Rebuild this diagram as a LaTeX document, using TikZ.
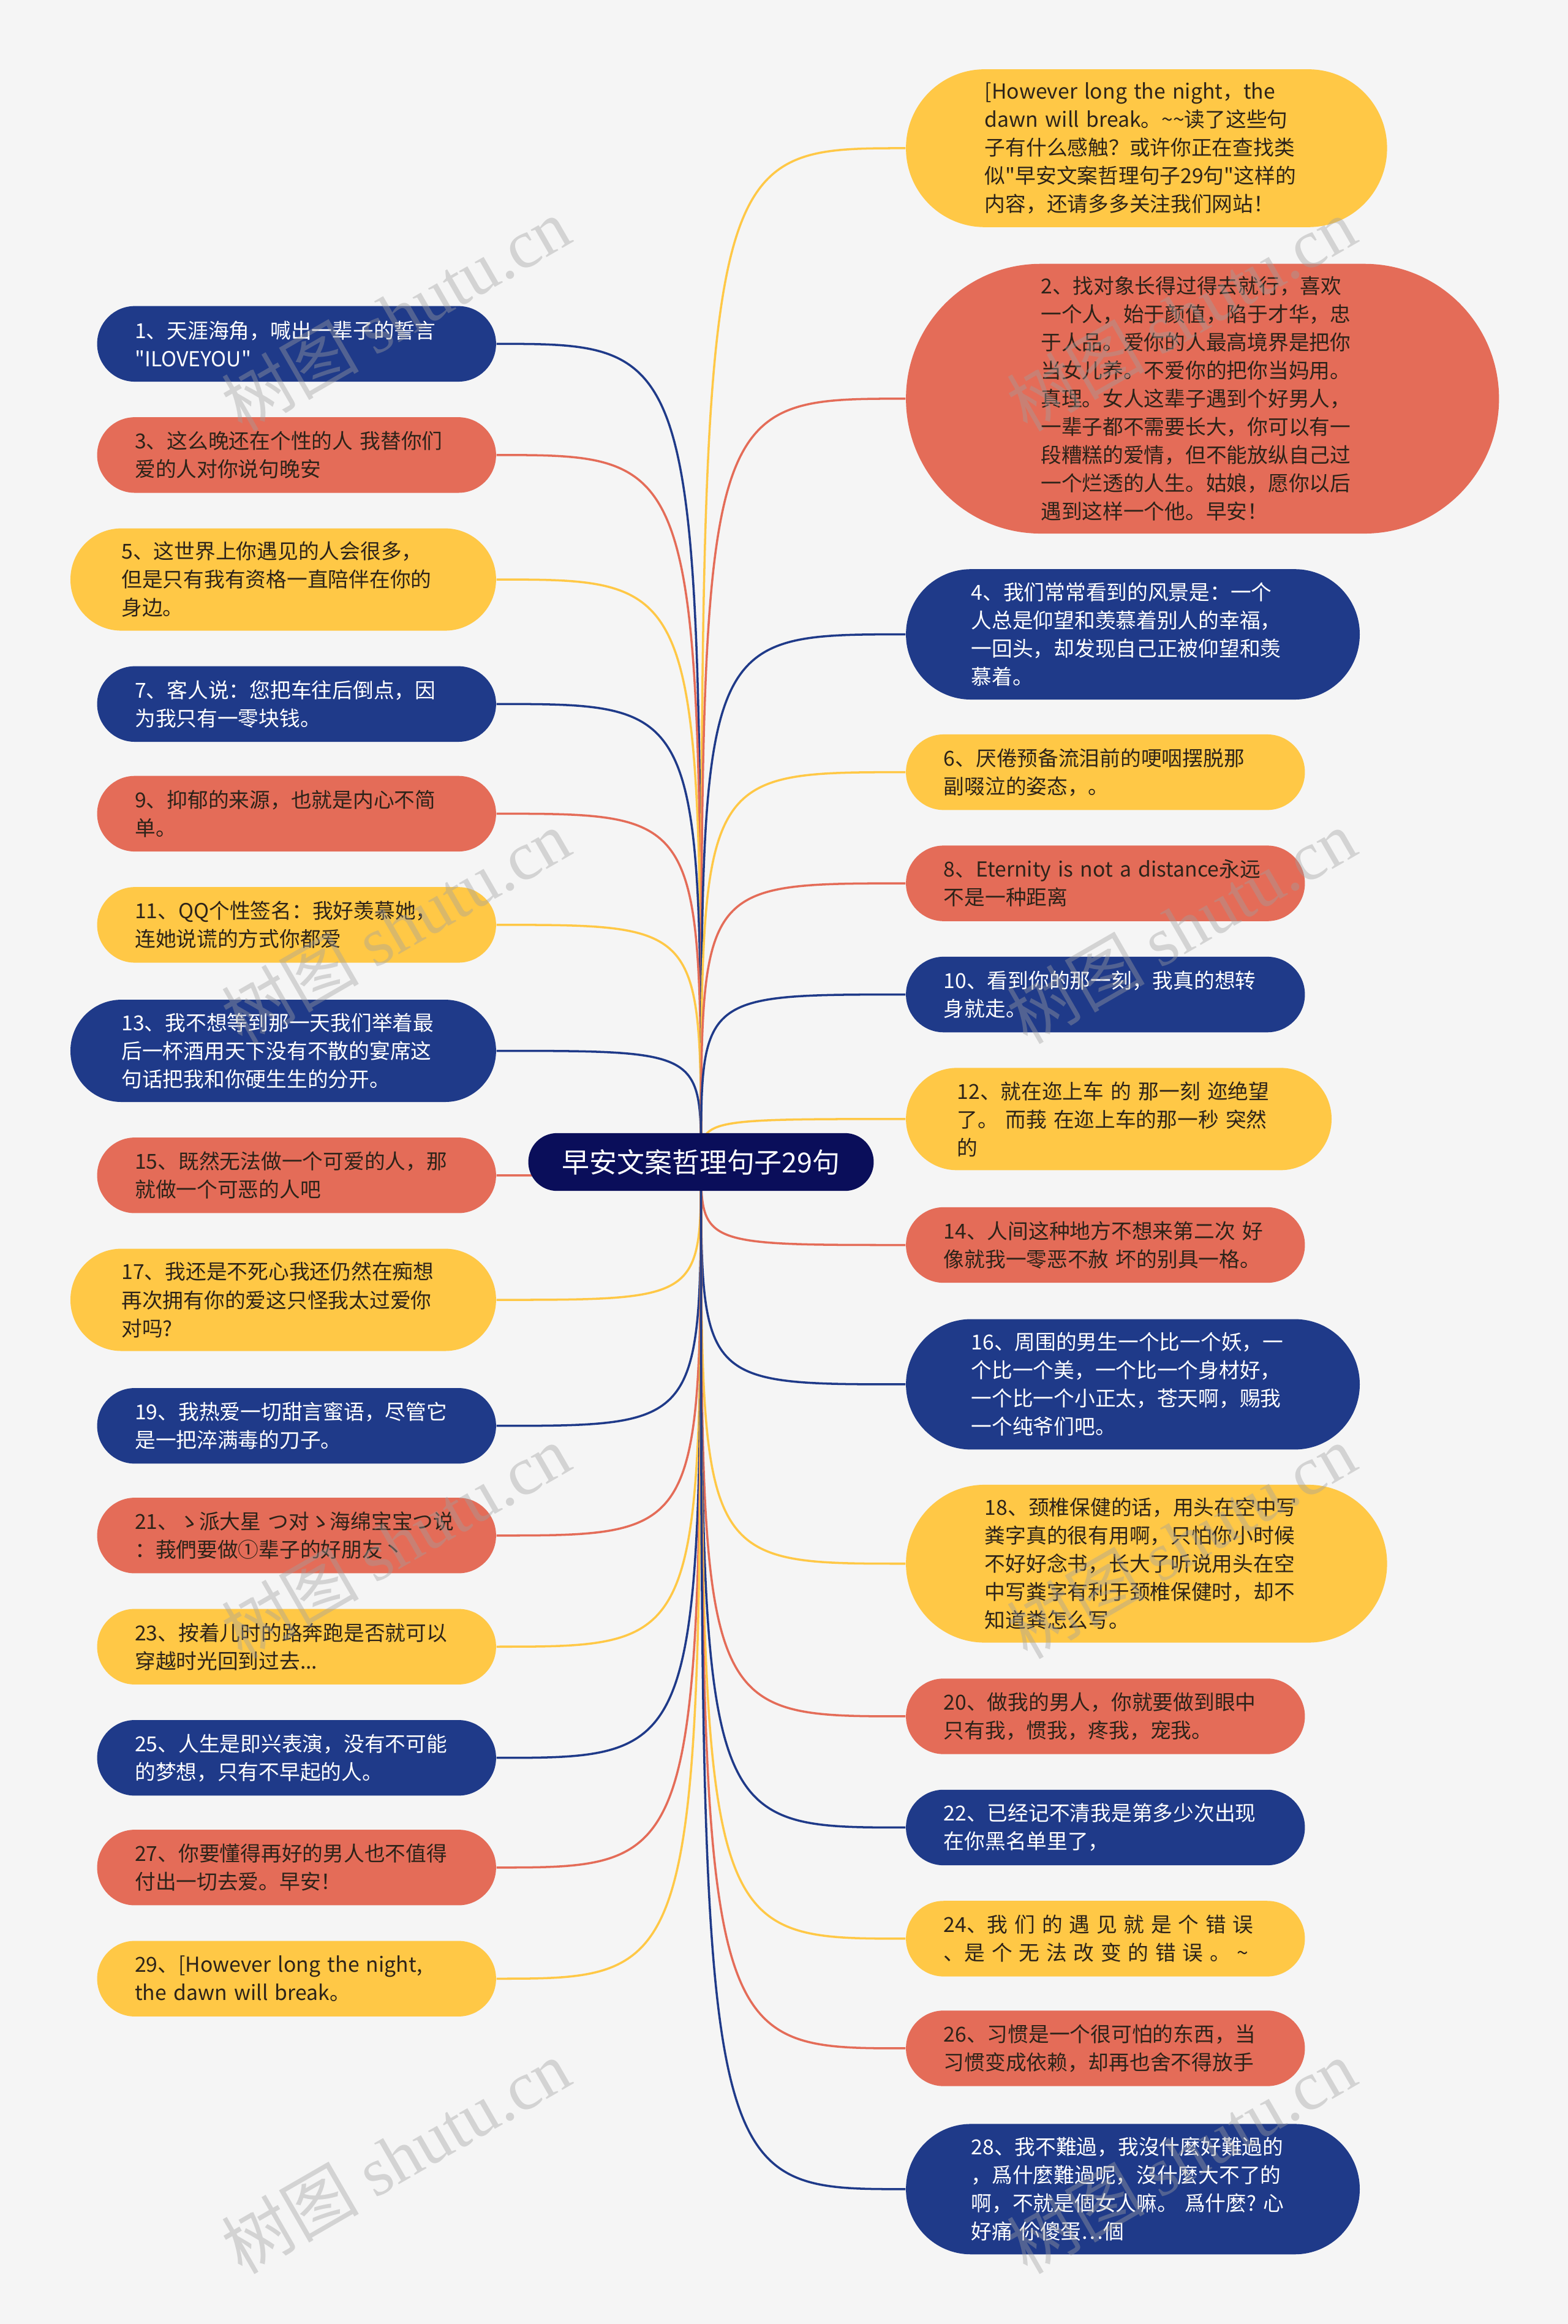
\documentclass[tikz,border=0pt]{standalone}
\usepackage{fontspec}
\setmainfont{Noto Sans CJK SC}[Ligatures=TeXOff]
\newfontfamily\markfont{Liberation Serif}
\usepackage{xcolor}
\usepackage{tikz}
\definecolor{mapbg}{RGB}{245,245,245}
\definecolor{mapnavy}{RGB}{10,14,90}
\definecolor{mapblue}{RGB}{31,58,137}
\definecolor{maporange}{RGB}{228,108,88}
\definecolor{mapyellow}{RGB}{255,200,70}
\definecolor{mapink}{RGB}{45,35,25}
\definecolor{markgray}{RGB}{160,160,160}
\pgfdeclarelayer{back}
\pgfdeclarelayer{lines}
\pgfdeclarelayer{front}
\pgfsetlayers{back,lines,main,front}
\newcommand\wsp{\nobreak\hspace{.32em}}

\begin{document}
\begin{tikzpicture}[
  x=0.024197cm, y=-0.024197cm,
  leaf/.style   = {rectangle, inner ysep=0.2cm, text width=5.28cm, align=left,
                   font=\fontsize{9.6pt}{13.1pt}\selectfont},
  lleaf/.style  = {leaf, anchor=east},
  rleaf/.style  = {leaf, anchor=west},
  lines2/.style = {minimum height=1.234cm, inner xsep=0.617cm, rounded corners=0.615cm},
  lines3/.style = {minimum height=1.670cm, inner xsep=0.835cm, rounded corners=0.833cm},
  lines4/.style = {minimum height=2.129cm, inner xsep=1.065cm, rounded corners=1.062cm},
  lines5/.style = {minimum height=2.577cm, inner xsep=1.288cm, rounded corners=1.286cm},
  lines9/.style = {minimum height=4.404cm, inner xsep=2.202cm, rounded corners=2.200cm},
  bnode/.style  = {fill=mapblue, text=white},
  onode/.style  = {fill=maporange, text=mapink},
  ynode/.style  = {fill=mapyellow, text=mapink},
  link/.style   = {line width=1pt},
  wmark/.style  = {rotate=30, text=markgray, opacity=0.4,
                   font=\fontsize{32pt}{32pt}\selectfont},
]
  \useasboundingbox (0,0) rectangle (1058,1568);
  \begin{pgfonlayer}{back}
    \fill[mapbg] (0,0) rectangle (1058,1568);
  \end{pgfonlayer}

  \node[rectangle, rounded corners=0.47cm, fill=mapnavy, text=white,
        minimum width=5.64cm, minimum height=0.944cm,
        font=\fontsize{12.8pt}{15pt}\selectfont]
    (root) at (473,784) {早安文案哲理句子29句};

  % left branch
  \node[lleaf, lines2, bnode] (l1)  at (335,232)  {1、天涯海角，喊出一辈子的誓言\\"ILOVEYOU"};
  \node[lleaf, lines2, onode] (l3)  at (335,307)  {3、这么晚还在个性的人~我替你们\\爱的人对你说句晚安};
  \node[lleaf, lines3, ynode] (l5)  at (335,391)  {5、这世界上你遇见的人会很多，\\但是只有我有资格一直陪伴在你的\\身边。};
  \node[lleaf, lines2, bnode] (l7)  at (335,475)  {7、客人说：您把车往后倒点，因\\为我只有一零块钱。};
  \node[lleaf, lines2, onode] (l9)  at (335,549)  {9、抑郁的来源，也就是内心不简\\单。};
  \node[lleaf, lines2, ynode] (l11) at (335,624)  {11、QQ个性签名：我好羡慕她，\\连她说谎的方式你都爱};
  \node[lleaf, lines3, bnode] (l13) at (335,709)  {13、我不想等到那一天我们举着最\\后一杯酒用天下没有不散的宴席这\\句话把我和你硬生生的分开。};
  \node[lleaf, lines2, onode] (l15) at (335,793)  {15、既然无法做一个可爱的人，那\\就做一个可恶的人吧};
  \node[lleaf, lines3, ynode] (l17) at (335,877)  {17、我还是不死心我还仍然在痴想\\再次拥有你的爱这只怪我太过爱你\\对吗?};
  \node[lleaf, lines2, bnode] (l19) at (335,962)  {19、我热爱一切甜言蜜语，尽管它\\是一把淬满毒的刀子。};
  \node[lleaf, lines2, onode] (l21) at (335,1036) {21、ゝ派大星~つ对ゝ海绵宝宝つ说\\：莪們要做①辈子的好朋友丶};
  \node[lleaf, lines2, ynode] (l23) at (335,1111) {23、按着儿时的路奔跑是否就可以\\穿越时光回到过去...};
  \node[lleaf, lines2, bnode] (l25) at (335,1186) {25、人生是即兴表演，没有不可能\\的梦想，只有不早起的人。};
  \node[lleaf, lines2, onode] (l27) at (335,1260) {27、你要懂得再好的男人也不值得\\付出一切去爱。早安！};
  \node[lleaf, lines2, ynode] (l29) at (335,1335) {29、[However~long~the~night,\\the~dawn~will~break。};

  % right branch
  \node[rleaf, lines5, ynode] (r0)  at (611,100)  {[However~long~the~night，the\\dawn~will~break。\textasciitilde\textasciitilde 读了这些句\\子有什么感触？或许你正在查找类\\似"早安文案哲理句子29句"这样的\\内容，还请多多关注我们网站！};
  \node[rleaf, lines9, onode] (r2)  at (611,269)  {2、找对象长得过得去就行，喜欢\\一个人，始于颜值，陷于才华，忠\\于人品。爱你的人最高境界是把你\\当女儿养。不爱你的把你当妈用。\\真理。女人这辈子遇到个好男人，\\一辈子都不需要长大，你可以有一\\段糟糕的爱情，但不能放纵自己过\\一个烂透的人生。姑娘，愿你以后\\遇到这样一个他。早安！};
  \node[rleaf, lines4, bnode] (r4)  at (611,428)  {4、我们常常看到的风景是：一个\\人总是仰望和羡慕着别人的幸福，\\一回头，却发现自己正被仰望和羡\\慕着。};
  \node[rleaf, lines2, ynode] (r6)  at (611,521)  {6、厌倦预备流泪前的哽咽摆脱那\\副啜泣的姿态，。};
  \node[rleaf, lines2, onode] (r8)  at (611,596)  {8、Eternity~is~not~a~distance永远\\不是一种距离};
  \node[rleaf, lines2, bnode] (r10) at (611,671)  {10、看到你的那一刻，我真的想转\\身就走。};
  \node[rleaf, lines3, ynode] (r12) at (611,755)  {12、就在迩上车~的~那一刻~迩绝望\\了。~而莪~在迩上车的那一秒~突然\\的};
  \node[rleaf, lines2, onode] (r14) at (611,840)  {14、人间这种地方不想来第二次~好\\像就我一零恶不赦~坏的别具一格。};
  \node[rleaf, lines4, bnode] (r16) at (611,934)  {16、周围的男生一个比一个妖，一\\个比一个美，一个比一个身材好，\\一个比一个小正太，苍天啊，赐我\\一个纯爷们吧。};
  \node[rleaf, lines5, ynode] (r18) at (611,1055) {18、颈椎保健的话，用头在空中写\\粪字真的很有用啊，只怕你小时候\\不好好念书，长大了听说用头在空\\中写粪字有利于颈椎保健时，却不\\知道粪怎么写。};
  \node[rleaf, lines2, onode] (r20) at (611,1158) {20、做我的男人，你就要做到眼中\\只有我，惯我，疼我，宠我。};
  \node[rleaf, lines2, bnode] (r22) at (611,1233) {22、已经记不清我是第多少次出现\\在你黑名单里了，};
  \node[rleaf, lines2, ynode] (r24) at (611,1308) {24、我\wsp 们\wsp 的\wsp 遇\wsp 见\wsp 就\wsp 是\wsp 个\wsp 错\wsp 误\\、是\wsp 个\wsp 无\wsp 法\wsp 改\wsp 变\wsp 的\wsp 错\wsp 误\wsp 。\wsp\textasciitilde};
  \node[rleaf, lines2, onode] (r26) at (611,1382) {26、习惯是一个很可怕的东西，当\\习惯变成依赖，却再也舍不得放手};
  \node[rleaf, lines4, bnode] (r28) at (611,1477) {28、我不難過，我沒什麼好難過的\\，爲什麼難過呢，沒什麼大不了的\\啊，不就是個女人嘛。~爲什麼?~心\\好痛~伱傻蛋…個};

  % connectors
  \begin{pgfonlayer}{lines}
    \draw[link, mapblue]   (root.center) .. controls (root.center |- l1.east)  .. (l1.east);
    \draw[link, maporange] (root.center) .. controls (root.center |- l3.east)  .. (l3.east);
    \draw[link, mapyellow] (root.center) .. controls (root.center |- l5.east)  .. (l5.east);
    \draw[link, mapblue]   (root.center) .. controls (root.center |- l7.east)  .. (l7.east);
    \draw[link, maporange] (root.center) .. controls (root.center |- l9.east)  .. (l9.east);
    \draw[link, mapyellow] (root.center) .. controls (root.center |- l11.east) .. (l11.east);
    \draw[link, mapblue]   (root.center) .. controls (root.center |- l13.east) .. (l13.east);
    \draw[link, maporange] (root.center) .. controls (root.center |- l15.east) .. (l15.east);
    \draw[link, mapyellow] (root.center) .. controls (root.center |- l17.east) .. (l17.east);
    \draw[link, mapblue]   (root.center) .. controls (root.center |- l19.east) .. (l19.east);
    \draw[link, maporange] (root.center) .. controls (root.center |- l21.east) .. (l21.east);
    \draw[link, mapyellow] (root.center) .. controls (root.center |- l23.east) .. (l23.east);
    \draw[link, mapblue]   (root.center) .. controls (root.center |- l25.east) .. (l25.east);
    \draw[link, maporange] (root.center) .. controls (root.center |- l27.east) .. (l27.east);
    \draw[link, mapyellow] (root.center) .. controls (root.center |- l29.east) .. (l29.east);
    \draw[link, mapyellow] (root.center) .. controls (root.center |- r0.west)  .. (r0.west);
    \draw[link, maporange] (root.center) .. controls (root.center |- r2.west)  .. (r2.west);
    \draw[link, mapblue]   (root.center) .. controls (root.center |- r4.west)  .. (r4.west);
    \draw[link, mapyellow] (root.center) .. controls (root.center |- r6.west)  .. (r6.west);
    \draw[link, maporange] (root.center) .. controls (root.center |- r8.west)  .. (r8.west);
    \draw[link, mapblue]   (root.center) .. controls (root.center |- r10.west) .. (r10.west);
    \draw[link, mapyellow] (root.center) .. controls (root.center |- r12.west) .. (r12.west);
    \draw[link, maporange] (root.center) .. controls (root.center |- r14.west) .. (r14.west);
    \draw[link, mapblue]   (root.center) .. controls (root.center |- r16.west) .. (r16.west);
    \draw[link, mapyellow] (root.center) .. controls (root.center |- r18.west) .. (r18.west);
    \draw[link, maporange] (root.center) .. controls (root.center |- r20.west) .. (r20.west);
    \draw[link, mapblue]   (root.center) .. controls (root.center |- r22.west) .. (r22.west);
    \draw[link, mapyellow] (root.center) .. controls (root.center |- r24.west) .. (r24.west);
    \draw[link, maporange] (root.center) .. controls (root.center |- r26.west) .. (r26.west);
    \draw[link, mapblue]   (root.center) .. controls (root.center |- r28.west) .. (r28.west);
  \end{pgfonlayer}

  % watermarks
  \begin{pgfonlayer}{front}
    \foreach \wx/\wy [count=\i] in {267/212, 797/212, 267/625, 797/625,
                                   267/1040, 797/1040, 267/1455, 797/1455}
      \node[wmark] (wm\i) at (\wx,\wy) {树图 {\markfont shutu.cn}};
  \end{pgfonlayer}
\end{tikzpicture}
\end{document}
